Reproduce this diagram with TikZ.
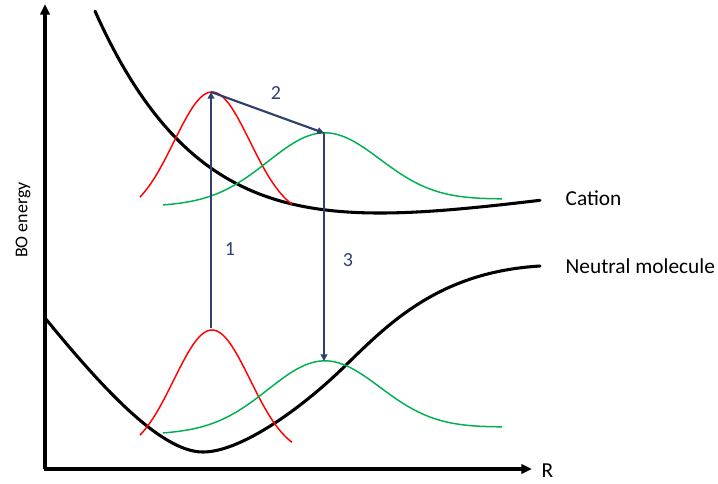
\documentclass[tikz,border=0pt]{standalone}
\usepackage{fontspec}
\setmainfont{Carlito}
\usetikzlibrary{positioning, arrows.meta}
\definecolor{navy}{HTML}{2F3F6E}
\definecolor{wred}{HTML}{FF0000}
\definecolor{wgreen}{HTML}{00B050}

\begin{document}
\begin{tikzpicture}[x=0.75pt, y=-0.75pt, font=\fontsize{16}{19}\selectfont,
    axis/.style={line width=2.3pt, -{Triangle[length=8pt, width=7pt]}},
    pes/.style={line width=2.3pt, line cap=round},
    wave/.style={line width=1.1pt},
    jump/.style={navy, line width=1.6pt, -{Triangle[length=5pt, width=5pt]}}]
  \useasboundingbox (0,0) rectangle (718,483);

  % Axes
  \coordinate (origin) at (45,469);
  \coordinate (ytip) at (45,4);
  \coordinate (xtip) at (532,469);
  \draw[axis] (origin) -- (ytip);
  \draw[axis] ([xshift=-1.1pt]origin) -- (xtip);
  \node[anchor=west] (rlbl) at (537,471) {R};
  \node[rotate=90, font=\fontsize{13.5}{15}\selectfont] (elbl) at (23,220) {BO energy};

  % Potential energy curves
  \draw[pes] plot[domain=95:540, samples=120]
    (\x, {213 - 69.3*(1-exp(-0.0035*(\x-380)))^2});
  \draw[pes] (45,318) .. controls (100,385) and (160,452) .. (203,452)
    .. controls (240,452) and (300,410) .. (345,366)
    .. controls (390,322) and (440,272) .. (540,266);
  \node[anchor=west] (cation) at (561,198) {Cation};
  \node[anchor=west] (neutral) at (561,266) {Neutral molecule};

  % Wave packets
  \foreach \dy in {0, 238} {
    \draw[wave, wred] plot[domain=140:292, samples=70]
      (\x, {\dy + 218 - 126*exp(-0.5*((\x-212)/38)^2)});
  }
  \foreach \dy in {0, 228} {
    \draw[wave, wgreen] plot[domain=163:502, samples=90]
      (\x, {\dy + 206 - 0.02*(\x-165) - 70*exp(-0.5*((\x-324)/56)^2)});
  }

  % Transitions
  \coordinate (upred) at (211,92);
  \coordinate (lowred) at (211,328);
  \coordinate (upgreen) at (324,133);
  \coordinate (lowgreen) at (324,361);
  \draw[jump] (lowred) -- (upred);
  \draw[jump] (upred) -- (upgreen);
  \draw[jump] (upgreen) -- (lowgreen);
  \node[navy, font=\fontsize{15}{18}\selectfont] (step1) at (230,249) {1};
  \node[navy, font=\fontsize{15}{18}\selectfont] (step2) at (276,93) {2};
  \node[navy, font=\fontsize{15}{18}\selectfont] (step3) at (348,260) {3};
\end{tikzpicture}
\end{document}
